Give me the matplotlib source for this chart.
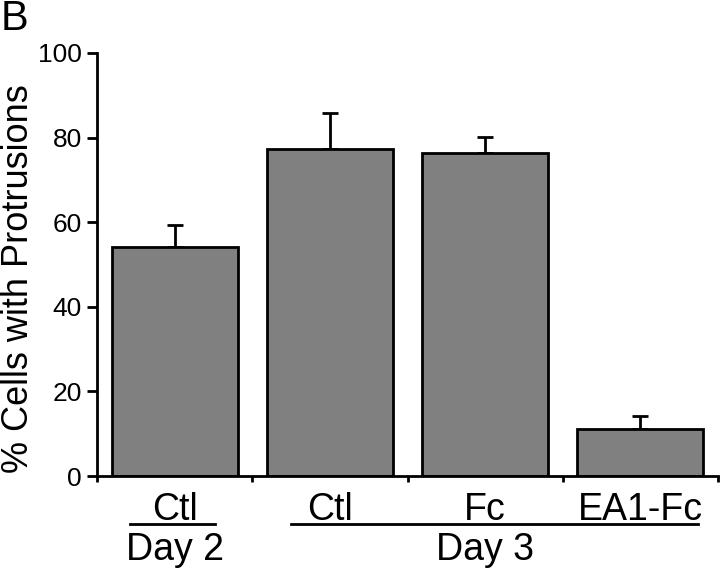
import matplotlib
matplotlib.use("Agg")
import matplotlib.pyplot as plt
import matplotlib.transforms as mtransforms
from matplotlib.lines import Line2D

plt.rcParams['font.family'] = ['Liberation Sans', 'DejaVu Sans']

categories = ["Ctl", "Ctl", "Fc", "EA1-Fc"]
values = [54.1, 77.3, 76.4, 11.1]
errors = [5.2, 8.5, 3.7, 3.1]
groups = [("Day 2", 0, 0), ("Day 3", 1, 3)]
yticks = [0, 20, 40, 60, 80, 100]

fig = plt.figure(figsize=(7.2, 5.74), dpi=100)
ax = fig.add_axes([97/720, 1-476/574, (718-97)/720, (476-53)/574])

x = list(range(1, len(values)+1))
lw = 2.0
ax.bar(x, values, width=0.81, color="#808080", edgecolor="black", linewidth=lw, zorder=2)
ax.errorbar(x, values, yerr=[[0]*len(errors), errors], fmt="none", ecolor="black",
            elinewidth=lw, capsize=6, capthick=lw, zorder=1)

ax.set_xlim(0.5, len(values)+0.5)
ax.set_ylim(0, 100)
ax.set_yticks(yticks)
ax.set_yticklabels([str(t) for t in yticks], fontsize=19)
ax.set_xticks([i+0.5 for i in range(0, len(values)+1)])
ax.set_xticklabels([])
ax.tick_params(axis='y', direction='out', length=7, width=lw, pad=4)
ax.tick_params(axis='x', direction='out', length=4, width=lw)
for s in ["top", "right"]:
    ax.spines[s].set_visible(False)
for s in ["left", "bottom"]:
    ax.spines[s].set_linewidth(lw)

fig.text(1/720, 1-279/574, "% Cells with Protrusions", rotation=90,
         ha="left", va="center", fontsize=26)

bt = mtransforms.blended_transform_factory(ax.transData, fig.transFigure)
for xi, c in zip(x, categories):
    ax.text(xi, 1-510/574, c, transform=bt, ha="center", va="center", fontsize=27)

for name, i0, i1 in groups:
    if i0 == i1:
        x0 = x[i0] - 0.29
        x1 = x[i1] + 0.26
    else:
        x0 = x[i0] - 0.25
        x1 = x[i1] + 0.37
    fig.add_artist(Line2D([x0, x1], [1-524/574, 1-524/574], transform=bt, color="black", linewidth=lw))
    ax.text((x[i0]+x[i1])/2, 1-550/574, name, transform=bt, ha="center", va="center", fontsize=27)

fig.text(1/720, 1-19/574, "B", fontsize=30, ha="left", va="center")

fig.savefig("out.png", dpi=100)
